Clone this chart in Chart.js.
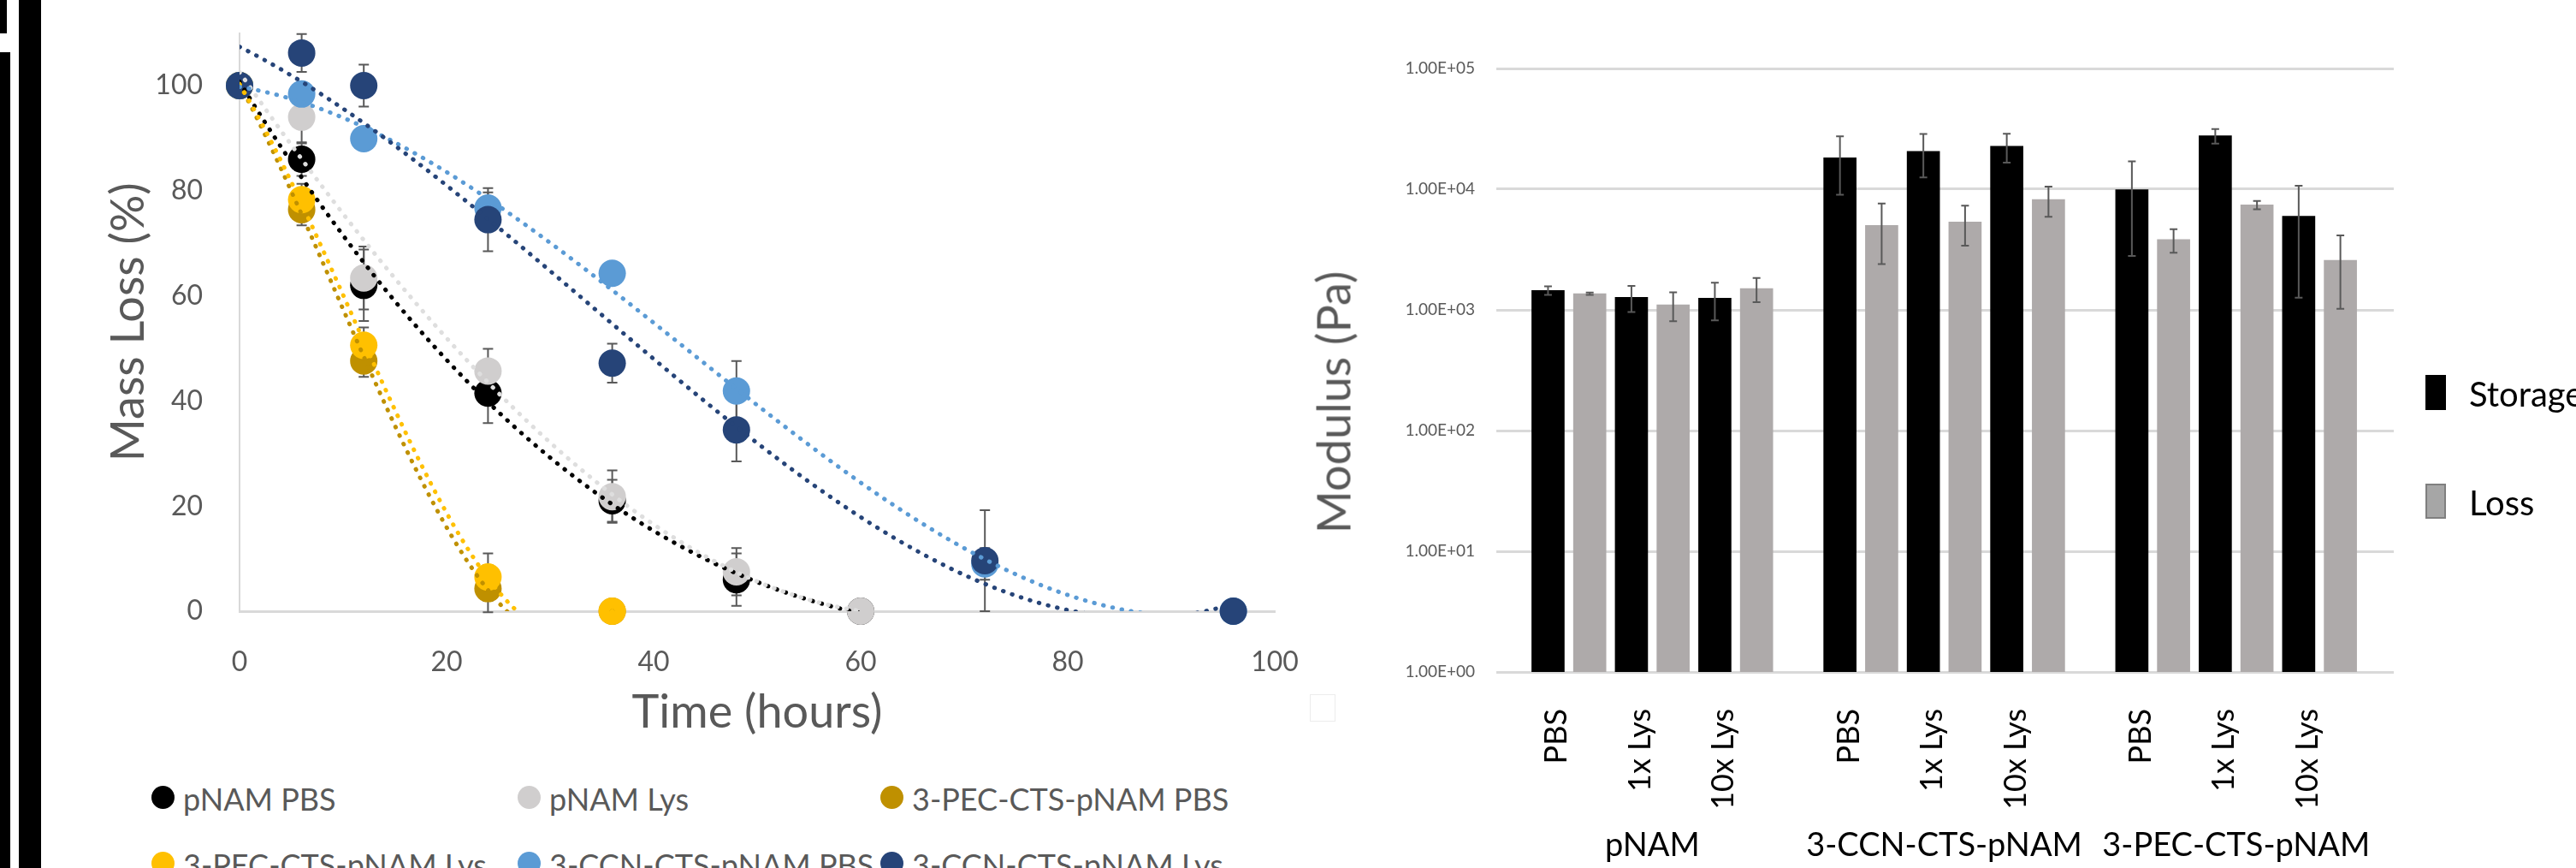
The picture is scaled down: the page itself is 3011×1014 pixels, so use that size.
<!DOCTYPE html>
<html>
<head>
<meta charset="utf-8">
<script src="https://cdn.jsdelivr.net/npm/chart.js@4.4.1/dist/chart.umd.min.js"></script>
<style>
  html, body { margin: 0; padding: 0; background: #fff; }
  body { width: 3011px; height: 1014px; position: relative; overflow: hidden; font-family: Lato, sans-serif; }
  .abs { position: absolute; }
  .edge { position: absolute; background: #000; }
  .legText { position: absolute; white-space: nowrap; line-height: 1; }
</style>
</head>
<body>
<!-- cropped frame edges at the far left -->
<div class="edge" style="left:0;top:0;width:8px;height:39px"></div>
<div class="edge" style="left:0;top:61px;width:12px;height:953px"></div>
<div class="edge" style="left:22px;top:0;width:26px;height:1014px"></div>

<canvas id="massChart" class="abs" style="left:0;top:0" width="1520" height="880"></canvas>
<canvas id="modChart" class="abs" style="left:1500px;top:0" width="1511" height="1014"></canvas>
<div id="massLegend"></div>
<div id="modLegend"></div>
<div class="abs" style="left:1531px;top:811px;width:28px;height:30px;border:1px solid #ececec"></div>
<div id="modTitle" class="abs" style="left:1558px;top:470px;transform:translate(-50%,-50%) rotate(-90deg);font-size:54px;color:#595959;white-space:nowrap">Modulus (Pa)</div>

<script>
// ---------- MASS LOSS DATA ----------
const hours = [0, 6, 12, 24, 36, 48, 60, 72, 96];
const hourTicks = [0, 20, 40, 60, 80, 100];
const lossTicks = [0, 20, 40, 60, 80, 100];

const seriesNames = ["pNAM PBS", "pNAM Lys", "3-PEC-CTS-pNAM PBS",
                     "3-PEC-CTS-pNAM Lys", "3-CCN-CTS-pNAM PBS", "3-CCN-CTS-pNAM Lys"];
const seriesColors = ["#000000", "#d0cece", "#bf9000", "#ffc000", "#5b9bd5", "#264478"];
const trendColors  = ["#000000", "#dedede", "#bf9000", "#ffc000", "#5b9bd5", "#264478"];

const pnamPbs    = [100, 86,   62,   41.5, 21,   6,    0,    null, null];
const pnamLys    = [100, 94,   63.4, 45.7, 21.8, 7.5,  0,    null, null];
const pecPbs     = [100, 76.4, 47.6, 4.3,  0,    null, null, null, null];
const pecLys     = [100, 78.3, 50.6, 6.5,  0,    null, null, null, null];
const ccnPbs     = [100, 98.4, 89.9, 76.7, 64.3, 41.9, null, 9,    0];
const ccnLys     = [100, 106.2,100,  74.5, 47.2, 34.5, null, 9.6,  0];

const pnamPbsErr = [0, 3.2, 6.8, 5.7, 4,   5,   0,    null, null];
const pnamLysErr = [0, 5,   6,   4.2, 5,   4.5, 0,    null, null];
const pecPbsErr  = [0, 3,   3,   4.5, 0,   null, null, null, null];
const pecLysErr  = [0, 3,   3.4, 4.5, 0,   null, null, null, null];
const ccnPbsErr  = [0, 2,   2,   3,   2,   5.7, null, 3,    0];
const ccnLysErr  = [0, 3.6, 4,   6,   3.7, 6,   null, 9.6,  0];

const massValues = [pnamPbs, pnamLys, pecPbs, pecLys, ccnPbs, ccnLys];
const massErrors = [pnamPbsErr, pnamLysErr, pecPbsErr, pecLysErr, ccnPbsErr, ccnLysErr];

// ---------- MODULUS DATA ----------
const groups = ["pNAM", "3-CCN-CTS-pNAM", "3-PEC-CTS-pNAM"];
const conditions = ["PBS", "1x Lys", "10x Lys"];
const storage    = [1450, 1270, 1250, 18200, 20600, 22700, 9900, 27700, 5960];
const storageErr = [120,  310,  430,  9200,  8100,  6100,  7100, 3800,  4700];
const loss       = [1360, 1100, 1500, 5000,  5350,  8200,  3820, 7400,  2580];
const lossErr    = [30,   295,  340,  2600,  1950,  2300,  850,  600,   1560];
const modulusTicks = [1, 10, 100, 1000, 10000, 100000];

Chart.defaults.font.family = "Lato, sans-serif";
Chart.defaults.animation = false;

// least squares polynomial trendline (order 3), like the spreadsheet one
function polyFit(xs, ys, order){
  const n = order + 1;
  const A = [];
  for(let r = 0; r < n; r++){
    A.push(new Array(n + 1).fill(0));
    xs.forEach((x, i) => {
      for(let c = 0; c < n; c++) A[r][c] += Math.pow(x, r + c);
      A[r][n] += Math.pow(x, r) * ys[i];
    });
  }
  for(let c = 0; c < n; c++){
    let p = c;
    for(let r = c + 1; r < n; r++) if(Math.abs(A[r][c]) > Math.abs(A[p][c])) p = r;
    [A[c], A[p]] = [A[p], A[c]];
    for(let r = 0; r < n; r++){
      if(r === c) continue;
      const f = A[r][c] / A[c][c];
      for(let k = c; k <= n; k++) A[r][k] -= f * A[c][k];
    }
  }
  return A.map((row, i) => row[n] / row[i]);
}

// strip the label based padding so the plot area lands where we set it
function noPad(s){ s.paddingTop = 0; s.paddingBottom = 0; s.paddingLeft = 0; s.paddingRight = 0; }

// ERROR BARS PLUGIN
const errorBars = {
  id: "errorBars",
  beforeDatasetsDraw(chart, args, opts){ if(opts.phase === "before") drawErrors(chart, opts); },
  afterDatasetsDraw(chart, args, opts){ if(opts.phase === "after") drawErrors(chart, opts); }
};
function drawErrors(chart, opts){
  const ctx = chart.ctx;
  ctx.save();
  ctx.strokeStyle = "#595959";
  ctx.lineWidth = opts.width;
  chart.data.datasets.forEach((ds, i) => {
    if(!ds.withErrors) return;
    const meta = chart.getDatasetMeta(i);
    const yScale = chart.scales[meta.yAxisID];
    ds.data.forEach((d, j) => {
      if(!d.err) return;
      const x = meta.data[j].x;
      const top = yScale.getPixelForValue(d.y + d.err);
      const bot = yScale.getPixelForValue(d.y - d.err);
      const c = opts.cap / 2;
      ctx.beginPath();
      ctx.moveTo(x, top); ctx.lineTo(x, bot);
      ctx.moveTo(x - c, top); ctx.lineTo(x + c, top);
      ctx.moveTo(x - c, bot); ctx.lineTo(x + c, bot);
      ctx.stroke();
    });
  });
  ctx.restore();
}

// ---------- MASS LOSS CHART ----------
const massDatasets = [];
massValues.forEach((vals, s) => {
  const pts = [];
  hours.forEach((h, i) => {
    if(vals[i] !== null) pts.push({x: h, y: vals[i], err: massErrors[s][i]});
  });
  massDatasets.push({
    label: seriesNames[s],
    data: pts,
    withErrors: true,
    backgroundColor: seriesColors[s],
    borderColor: seriesColors[s],
    pointRadius: 16,
    pointBorderWidth: 0,
    showLine: false,
    clip: false,
    order: 20 - s
  });
  // trendline from the fitted coefficients
  const coef = polyFit(pts.map(p => p.x), pts.map(p => p.y), 3);
  const tMax = pts[pts.length - 1].x;
  const trend = [];
  for(let t = 0; t <= tMax; t += 0.5){
    trend.push({x: t, y: coef.reduce((sum, a, k) => sum + a * Math.pow(t, k), 0)});
  }
  massDatasets.push({
    label: seriesNames[s] + " trend",
    data: trend,
    showLine: true,
    pointRadius: 0,
    borderColor: trendColors[s],
    borderWidth: 5,
    borderDash: [0.5, 10.5],
    borderCapStyle: "round",
    order: 6 - s
  });
});

new Chart(document.getElementById("massChart"), {
  type: "scatter",
  data: { datasets: massDatasets },
  plugins: [errorBars],
  options: {
    responsive: false,
    events: [],
    layout: { autoPadding: false, padding: { top: 38.6, right: 30, left: 0, bottom: 0 } },
    plugins: {
      legend: { display: false },
      tooltip: { enabled: false },
      errorBars: { phase: "before", width: 2, cap: 12 }
    },
    scales: {
      x: {
        type: "linear", min: 0, max: 100,
        grid: { display: false },
        border: { display: true, color: "#d9d9d9", width: 3 },
        afterBuildTicks: s => { s.ticks = hourTicks.map(v => ({value: v})); },
        afterFit: s => { s.height = 166; noPad(s); },
        ticks: { color: "#595959", font: { size: 32 }, padding: 32 },
        title: { display: true, text: "Time (hours)", color: "#595959",
                 font: { size: 54 }, padding: { top: 0, bottom: 15 } }
      },
      y: {
        type: "linear", min: 0, max: 110,
        grid: { display: false },
        border: { display: true, color: "#d9d9d9", width: 2 },
        afterBuildTicks: s => { s.ticks = lossTicks.map(v => ({value: v})); },
        afterFit: s => { s.width = 280; noPad(s); },
        ticks: { color: "#595959", font: { size: 32 }, padding: 35 },
        title: { display: true, text: "Mass Loss (%)", color: "#595959",
                 font: { size: 54 }, padding: { top: 118, bottom: 0 } }
      }
    }
  }
});

// mass loss legend (3 columns, 2 rows)
const legCols = [190, 618, 1042];
const legRows = [931, 1008];
const massLegend = document.getElementById("massLegend");
seriesNames.forEach((name, i) => {
  const cx = legCols[i % 3], cy = legRows[Math.floor(i / 3)];
  const dot = document.createElement("div");
  dot.className = "abs";
  dot.style.cssText = `left:${cx-13.5}px;top:${cy-13.5}px;width:27px;height:27px;border-radius:50%;background:${seriesColors[i]}`;
  massLegend.appendChild(dot);
  const txt = document.createElement("div");
  txt.className = "legText";
  txt.style.cssText = `left:${cx+24}px;top:${cy-16}px;font-size:36px;color:#595959`;
  txt.textContent = name;
  massLegend.appendChild(txt);
});

// ---------- MODULUS CHART ----------
// bars sit on evenly spaced slots, one empty slot between groups
const slotOf = (g, c) => g * 7 + c * 2;
const storagePts = [], lossPts = [], condTicks = [], groupTicks = [];
groups.forEach((g, gi) => {
  conditions.forEach((c, ci) => {
    const k = gi * 3 + ci;
    storagePts.push({x: slotOf(gi, ci), y: storage[k], err: storageErr[k]});
    lossPts.push({x: slotOf(gi, ci) + 1, y: loss[k], err: lossErr[k]});
    condTicks.push({value: slotOf(gi, ci) + 0.5});
  });
  groupTicks.push({value: slotOf(gi, 1) + 0.5});
});

const fmtSci = v => {
  const e = Math.round(Math.log10(v));
  return "1.00E" + (e < 0 ? "-" : "+") + String(Math.abs(e)).padStart(2, "0");
};

new Chart(document.getElementById("modChart"), {
  type: "bar",
  data: {
    datasets: [
      { label: "Storage", data: storagePts, withErrors: true, backgroundColor: "#000000",
        barThickness: 38, grouped: false, xAxisID: "x" },
      { label: "Loss", data: lossPts, withErrors: true, backgroundColor: "#aeaaaa",
        barThickness: 38, grouped: false, xAxisID: "x" }
    ]
  },
  plugins: [errorBars],
  options: {
    responsive: false,
    events: [],
    layout: { autoPadding: false, padding: { top: 80, right: 213, left: 0, bottom: 0 } },
    plugins: {
      legend: { display: false },
      tooltip: { enabled: false },
      errorBars: { phase: "after", width: 2, cap: 9 }
    },
    scales: {
      x: {
        type: "linear", min: -1.24, max: 20.28, offset: false, weight: 0,
        grid: { display: false }, border: { display: false },
        afterBuildTicks: s => { s.ticks = condTicks.map(t => ({value: t.value})); },
        afterFit: s => { s.height = 160; noPad(s); },
        ticks: { color: "#000", font: { size: 36 }, padding: 35, labelOffset: -14,
                 minRotation: 90, maxRotation: 90, autoSkip: false,
                 callback: (v, i) => conditions[i % 3] }
      },
      xg: {
        type: "linear", position: "bottom", min: -1.24, max: 20.28, offset: false, weight: 1,
        grid: { display: false }, border: { display: false },
        afterBuildTicks: s => { s.ticks = groupTicks.map(t => ({value: t.value})); },
        afterFit: s => { s.height = 69; noPad(s); },
        ticks: { color: "#000", font: { size: 38 }, padding: 12, maxRotation: 0,
                 autoSkip: false, callback: (v, i) => groups[i] }
      },
      y: {
        type: "logarithmic", min: 1, max: 100000,
        grid: { color: "#d9d9d9", lineWidth: 3, drawTicks: false },
        border: { display: false },
        afterBuildTicks: s => { s.ticks = modulusTicks.map(v => ({value: v})); },
        afterFit: s => { s.width = 249; noPad(s); },
        ticks: { color: "#595959", font: { size: 19 }, padding: 25, callback: v => fmtSci(v) }
      }
    }
  }
});

// modulus legend
const modLegend = document.getElementById("modLegend");
[["Storage", "#000000", "none", 458], ["Loss", "#a6a6a6", "2px solid #7f7f7f", 585]].forEach(([name, fill, border, cy]) => {
  const box = document.createElement("div");
  box.className = "abs";
  box.style.cssText = `left:2835px;top:${cy-20.5}px;width:24px;height:41px;box-sizing:border-box;background:${fill};border:${border}`;
  modLegend.appendChild(box);
  const txt = document.createElement("div");
  txt.className = "legText";
  txt.style.cssText = `left:2886px;top:${cy-18}px;font-size:40px;color:#000`;
  txt.textContent = name;
  modLegend.appendChild(txt);
});
</script>
</body>
</html>
